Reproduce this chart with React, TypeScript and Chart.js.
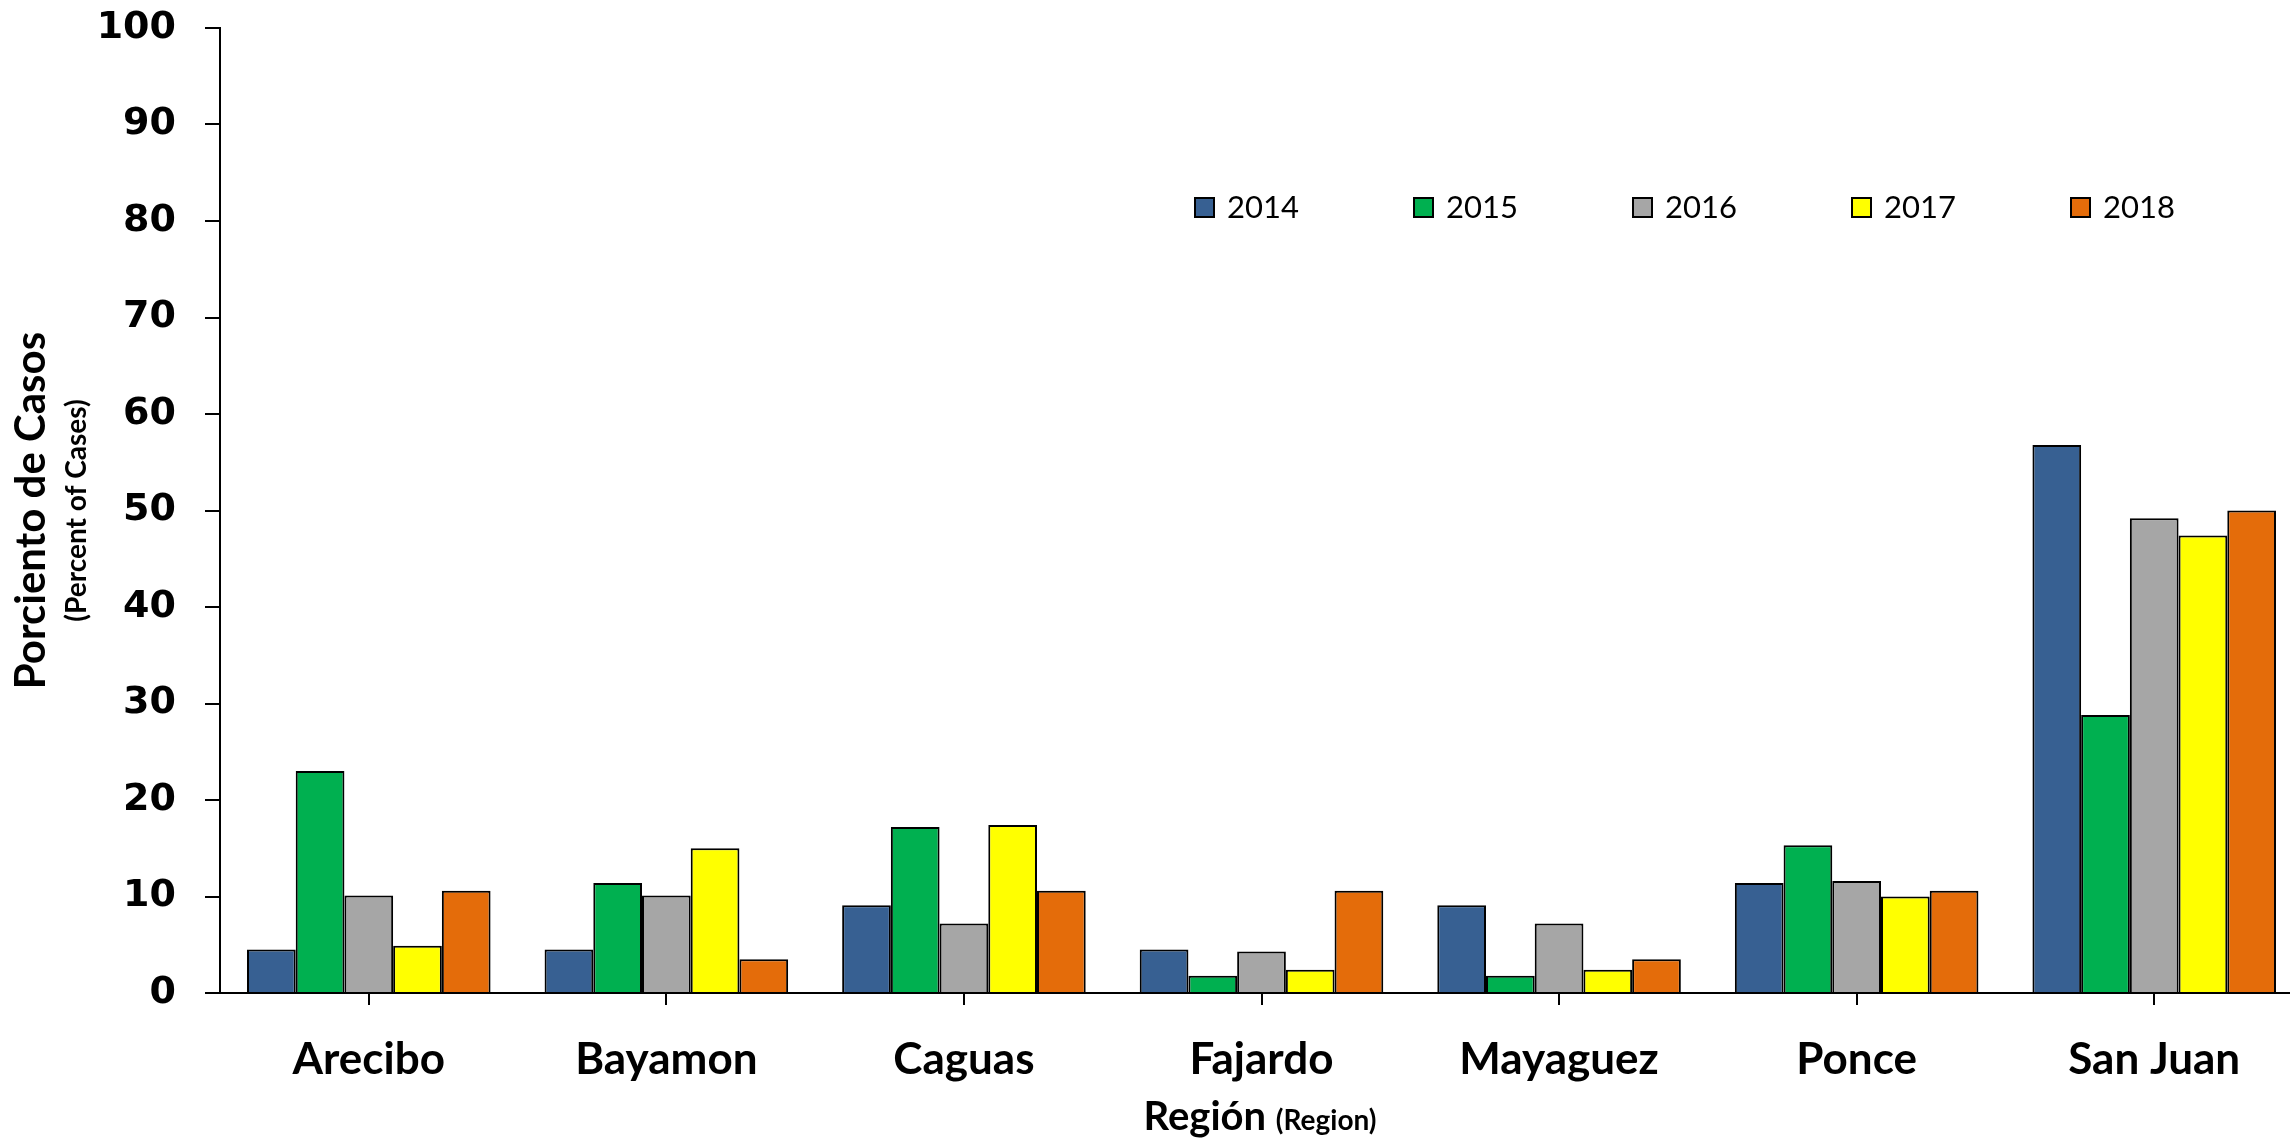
import React, { useEffect, useRef } from "react";
import { Chart, registerables } from "chart.js";

Chart.register(...registerables);

const regions = ["Arecibo", "Bayamon", "Caguas", "Fajardo", "Mayaguez", "Ponce", "San Juan"];
const years = ["2014", "2015", "2016", "2017", "2018"];
const values2014 = [4.5, 4.5, 9.1, 4.5, 9.1, 11.4, 56.8];
const values2015 = [23.0, 11.4, 17.2, 1.8, 1.8, 15.3, 28.8];
const values2016 = [10.1, 10.1, 7.2, 4.3, 7.2, 11.6, 49.2];
const values2017 = [4.9, 15.0, 17.4, 2.4, 2.4, 10.0, 47.4];
const values2018 = [10.6, 3.5, 10.6, 10.6, 3.5, 10.6, 50.0];
const seriesValues = [values2014, values2015, values2016, values2017, values2018];
const seriesColors = ["#376092", "#00B050", "#A6A6A6", "#FFFF00", "#E46C0A"];
const yTitle = "Porciento de Casos";
const ySubtitle = "(Percent of Cases)";
const xTitle = "Región";
const xSubtitle = "(Region)";

const LABEL_FONT = "Lato, 'Noto Sans', sans-serif";

const decorPlugin = {
  id: "decor",
  afterDraw(chart: any) {
    const ctx = chart.ctx;
    const area = chart.chartArea;
    ctx.save();
    // legend
    const ds = chart.data.datasets;
    ctx.font = `31px ${LABEL_FONT}`;
    ctx.textBaseline = "middle";
    ctx.textAlign = "left";
    for (let i = 0; i < ds.length; i++) {
      const bx = 1194 + i * 219;
      const by = 197;
      ctx.fillStyle = ds[i].backgroundColor;
      ctx.fillRect(bx, by, 21, 21);
      ctx.lineWidth = 2;
      ctx.strokeStyle = "#000";
      ctx.strokeRect(bx + 1, by + 1, 19, 19);
      ctx.fillStyle = "#000";
      ctx.fillText(ds[i].label, bx + 33, by + 11);
    }
    // y title
    const cy = (area.top + area.bottom) / 2;
    ctx.save();
    ctx.translate(31, cy);
    ctx.rotate(-Math.PI / 2);
    ctx.textAlign = "center";
    ctx.textBaseline = "middle";
    ctx.font = `bold 42px ${LABEL_FONT}`;
    ctx.fillText(yTitle, 0, 0);
    ctx.restore();
    ctx.save();
    ctx.translate(77, cy);
    ctx.rotate(-Math.PI / 2);
    ctx.textAlign = "center";
    ctx.textBaseline = "middle";
    ctx.font = `bold 28px ${LABEL_FONT}`;
    ctx.fillText(ySubtitle, 0, 0);
    ctx.restore();
    // x title
    ctx.textBaseline = "alphabetic";
    ctx.textAlign = "left";
    ctx.font = `bold 40px ${LABEL_FONT}`;
    const w1 = ctx.measureText(xTitle + " ").width;
    ctx.font = `bold 28px ${LABEL_FONT}`;
    const w2 = ctx.measureText(xSubtitle).width;
    const startX = 1260 - (w1 + w2) / 2;
    ctx.font = `bold 40px ${LABEL_FONT}`;
    ctx.fillText(xTitle + " ", startX, 1130);
    ctx.font = `bold 28px ${LABEL_FONT}`;
    ctx.fillText(xSubtitle, startX + w1, 1130);
    ctx.restore();
  },
};

export default function App() {
  const canvasRef = useRef<HTMLCanvasElement | null>(null);

  useEffect(() => {
    const canvas = canvasRef.current;
    if (!canvas) return;
    const chart = new Chart(canvas, {
      type: "bar",
      data: {
        labels: regions,
        datasets: years.map((y, i) => ({
          label: y,
          data: seriesValues[i],
          backgroundColor: seriesColors[i],
          borderColor: "#000000",
          borderWidth: 2,
          categoryPercentage: 0.8185,
          barPercentage: 1.0,
        })),
      },
      options: {
        responsive: false,
        animation: false,
        devicePixelRatio: 1,
        layout: { padding: { left: 0, right: 0, top: 28, bottom: 0 } },
        plugins: {
          legend: { display: false },
          tooltip: { enabled: false },
          title: { display: false },
        },
        scales: {
          x: {
            type: "category",
            offset: true,
            grid: {
              offset: false,
              drawOnChartArea: false,
              drawTicks: true,
              tickLength: 12,
              color: "#000",
              lineWidth: 2,
            },
            border: { display: true, color: "#000", width: 2 },
            ticks: {
              color: "#000",
              padding: 28,
              maxRotation: 0,
              autoSkip: false,
              font: { family: LABEL_FONT, size: 44, weight: "bold" },
            },
            afterFit: (scale: any) => {
              scale.height = 146;
              scale.paddingLeft = 0;
              scale.paddingRight = 0;
            },
          },
          y: {
            min: 0,
            max: 100,
            grid: {
              drawOnChartArea: false,
              drawTicks: true,
              tickLength: 15,
              color: "#000",
              lineWidth: 2,
            },
            border: { display: true, color: "#000", width: 2 },
            ticks: {
              stepSize: 10,
              color: "#000",
              padding: 29,
              font: { family: "'DejaVu Sans', sans-serif", size: 38, weight: "bold", lineHeight: 1 },
            },
            afterFit: (scale: any) => {
              scale.width = 220;
              scale.paddingTop = 0;
              scale.paddingBottom = 0;
            },
          },
        },
      },
      plugins: [decorPlugin],
    });
    return () => chart.destroy();
  }, []);

  return (
    <div
      style={{
        position: "fixed",
        left: 0,
        top: 0,
        width: 2290,
        height: 1139,
        overflow: "hidden",
        background: "#fff",
      }}
    >
      <canvas ref={canvasRef} width={2303} height={1139} style={{ display: "block" }} />
    </div>
  );
}
